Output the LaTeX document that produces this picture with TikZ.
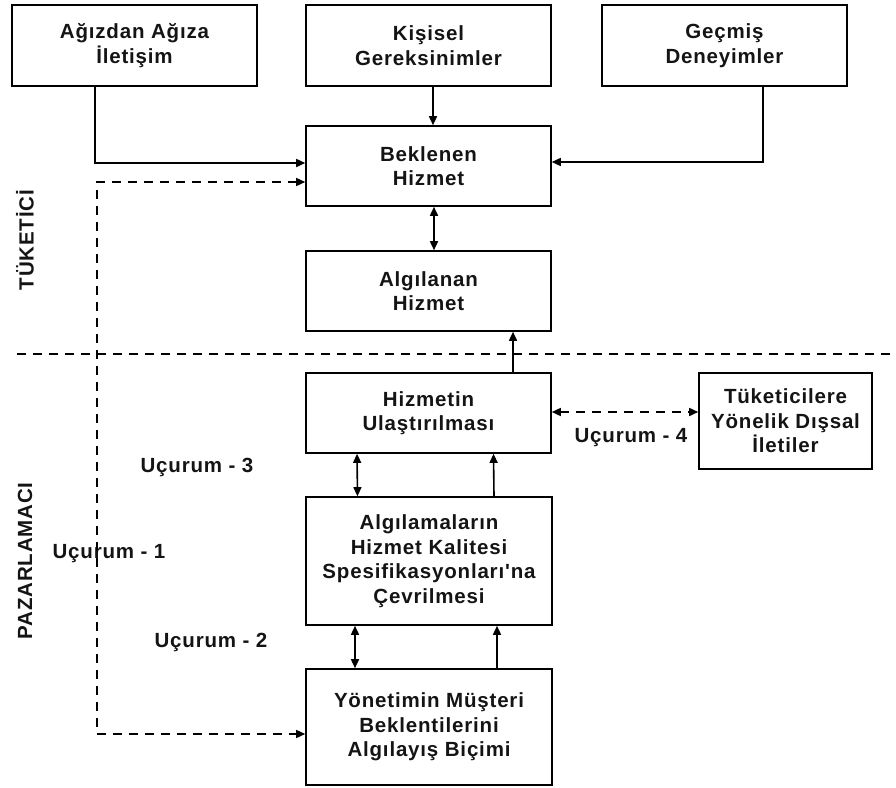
\documentclass[tikz,border=0pt]{standalone}
\usepackage{fontspec}
\setmainfont{Liberation Sans}[Ligatures=TeXOff, LetterSpace=4]
\usetikzlibrary{arrows.meta}
\begin{document}
\begin{tikzpicture}[x=1pt,y=-1pt,
  every node/.style={font=\fontsize{20.5}{24.5}\selectfont\bfseries, text=black!92},
  box/.style={draw, line width=1.6pt, rectangle, align=center, inner sep=0pt},
  conn/.style={line width=1.6pt, -{Triangle[length=9pt,width=8pt]}},
  both/.style={line width=1.6pt, {Triangle[length=9pt,width=8pt]}-{Triangle[length=9pt,width=8pt]}},
  dsh/.style={dash pattern=on 9pt off 7pt},
  gaplabel/.style={anchor=center}
]
\useasboundingbox (0,0) rectangle (896,787);

% boxes
\node[box, minimum width=245pt, minimum height=81pt] (wom) at (134.5,45.5) {Ağızdan Ağıza\\İletişim};
\node[box, minimum width=245pt, minimum height=81pt] (need) at (428.5,45.5) {Kişisel\\Gereksinimler};
\node[box, minimum width=245pt, minimum height=81pt] (past) at (724.5,45.5) {Geçmiş\\Deneyimler};
\node[box, minimum width=245pt, minimum height=80pt] (exp) at (428.5,166) {Beklenen\\Hizmet};
\node[box, minimum width=245pt, minimum height=80pt] (perc) at (428.5,291) {Algılanan\\Hizmet};
\node[box, minimum width=245pt, minimum height=80pt] (deliv) at (428.5,413) {Hizmetin\\Ulaştırılması};
\node[box, minimum width=173pt, minimum height=96pt] (ext) at (785.5,421) {Tüketicilere\\Yönelik Dışsal\\İletiler};
\node[box, minimum width=246pt, minimum height=128pt] (spec) at (429,561) {Algılamaların\\Hizmet Kalitesi\\Spesifikasyonları'na\\Çevrilmesi};
\node[box, minimum width=246pt, minimum height=116pt] (mgmt) at (429,727) {Yönetimin Müşteri\\Beklentilerini\\Algılayış Biçimi};

% side labels and gap labels
\node[rotate=90] (cons) at (25,240) {TÜKETİCİ};
\node[rotate=90] (mark) at (25,561) {PAZARLAMACI};
\node[gaplabel] (g1) at (109,554) {Uçurum - 1};
\node[gaplabel] (g2) at (211,642) {Uçurum - 2};
\node[gaplabel] (g3) at (197,467) {Uçurum - 3};
\node[gaplabel] (g4) at (631,438) {Uçurum - 4};

% consumer / marketer separator
\coordinate (sepL) at (17,354);
\coordinate (sepR) at (896,354);
\draw[line width=1.4pt, dsh] (sepL) -- (sepR);

% inputs to expected service
\draw[conn] ([xshift=-39.5pt]wom.south) |- ([yshift=3pt]exp.west);
\draw[conn] ([xshift=4.5pt]need.south) -- ([xshift=4.5pt]exp.north);
\draw[conn] ([xshift=38.5pt]past.south) |- ([yshift=4pt]exp.east);

% expected <-> perceived
\draw[both] ([xshift=5.5pt]exp.south) -- ([xshift=5.5pt]perc.north);

% delivery -> perceived
\draw[conn] ([xshift=84.5pt]deliv.north) -- ([xshift=84.5pt]perc.south);

% delivery <-> external communications
\draw[both, dsh] ([yshift=1pt]deliv.east) -- ([yshift=1pt]deliv.east -| ext.west);

% delivery <-> specifications
\draw[both] ([xshift=-71.5pt]deliv.south) -- ([xshift=-71.5pt]spec.north);
\draw[conn] ([xshift=65pt]spec.north) -- ([xshift=65pt]deliv.south);

% specifications <-> management perception
\draw[both] ([xshift=-74pt]spec.south) -- ([xshift=-74pt]mgmt.north);
\draw[conn] ([xshift=68pt]mgmt.north) -- ([xshift=68pt]spec.south);

% gap 1 loop
\coordinate (loopx) at (97,450);
\draw[both, line width=1.4pt, dsh] ([yshift=-16pt]exp.west) -| (loopx) |- ([yshift=-7pt]mgmt.west);
\end{tikzpicture}
\end{document}
